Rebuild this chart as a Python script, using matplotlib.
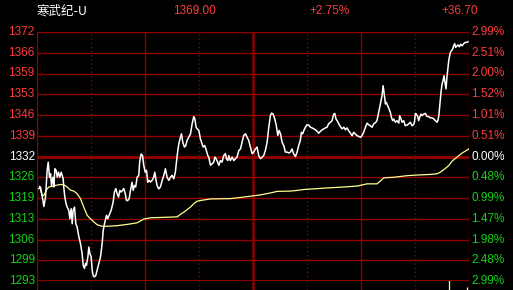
import numpy as np
import matplotlib
matplotlib.use("Agg")
import matplotlib.pyplot as plt

# quote header
stock_name = "寒武纪-U"
last_price = "1369.00"
change_pct = "+2.75%"
change_abs = "+36.70"

prev_close = 1332.3
span = 39.6          # price range either side of prev close

# axis labels, top to bottom
price_labels = ["1372", "1366", "1359", "1353", "1346", "1339", "1332",
                "1326", "1319", "1313", "1306", "1299", "1293"]
pct_labels = ["2.99%", "2.51%", "2.00%", "1.52%", "1.01%", "0.51%", "0.00%",
              "0.48%", "0.99%", "1.47%", "1.98%", "2.48%", "2.99%"]

# intraday price (minutes from open, price)
price_minutes = [
    1.3, 2.2, 3.1, 4.1, 5.0, 5.9, 6.5, 7.2, 7.8, 8.3, 9.1, 9.6, 10.2, 10.9, 11.5,
    12.2, 12.9, 13.7, 14.2, 14.8, 15.1, 15.7, 16.4, 17.0, 17.9, 18.5, 19.2, 19.8,
    20.3, 21.1, 21.8, 22.5, 23.5, 24.4, 25.3, 25.9, 26.6, 27.2, 27.7, 28.5, 29.0,
    29.6, 30.3, 30.9, 31.4, 32.1, 32.9, 33.6, 34.5, 35.5, 36.4, 37.0, 37.7, 38.8,
    39.5, 40.6, 41.4, 42.5, 43.2, 44.0, 44.7, 45.5, 46.2, 46.9, 47.7, 48.4, 49.2,
    49.9, 50.6, 51.4, 52.1, 53.0, 53.6, 54.3, 55.0, 55.8, 56.7, 57.2, 58.0, 58.8,
    59.5, 60.3, 61.0, 61.7, 62.5,
    63.2, 64.1, 65.0, 65.6, 66.3, 66.9, 67.8, 68.7, 69.7, 70.6, 71.5, 72.4, 73.4,
    74.3, 75.2, 76.1, 77.0, 78.0, 78.9, 79.8, 80.4, 81.1, 82.0, 82.8, 83.5, 84.4,
    85.4, 86.3, 87.2, 87.8, 88.5, 89.1, 90.0, 90.9, 91.8, 92.4, 93.3, 94.2, 95.0,
    95.5, 96.5, 97.4, 98.3, 98.9, 99.6, 100.1, 101.1, 102.0, 102.9, 103.8, 104.8,
    105.3, 106.1, 106.6, 107.5, 108.5, 109.4, 110.3, 111.2, 112.2, 113.1, 114.0,
    114.9, 115.9, 116.8, 117.7, 118.6, 119.6, 120.5, 121.4, 122.3, 123.2, 124.2,
    125.1, 126.0, 126.9, 127.9, 128.8, 129.7, 130.3, 131.2, 132.1, 133.0, 133.8,
    134.5, 135.3,
    136.2, 137.1, 138.0, 139.0, 139.9, 140.8, 141.7, 142.6, 143.6, 144.5, 145.4,
    146.3, 146.9, 147.6, 148.2, 149.1, 150.0, 151.0, 151.9, 152.8, 153.7, 154.7,
    155.6, 156.5, 157.4, 158.4, 159.3, 160.2, 161.1, 162.0, 163.0, 163.9, 164.8,
    165.4, 166.1, 166.7, 167.6, 168.5, 169.4, 170.4, 171.3, 172.2, 173.1, 174.1,
    175.0, 175.9, 176.8, 177.8, 178.7, 179.6, 180.5, 181.4, 182.4, 183.3, 184.2,
    185.1, 186.1, 187.0, 187.9, 188.8, 189.8, 190.7, 191.6, 192.2, 192.7, 193.5,
    194.0, 194.7, 195.5, 196.2, 196.8, 197.5, 198.1, 199.0, 199.9, 200.9,
    201.4, 202.1, 202.7, 203.6, 204.5, 205.5, 206.4, 207.3, 208.2, 209.2, 209.7,
    210.1, 210.6, 211.4, 211.9, 212.5, 213.2, 213.8, 214.7, 215.6, 216.6, 217.5,
    218.4, 219.3, 220.2, 221.2, 222.1, 222.7, 223.2, 223.8, 224.3, 224.9, 225.4,
    226.0, 226.5, 227.1, 227.6, 228.2, 228.6, 228.9, 229.5, 230.0, 230.8, 231.3,
    231.9, 232.4, 233.2, 233.7, 234.5, 235.2, 236.0, 236.9, 237.8, 238.7, 239.3,
]
price_values = [
    1322.1, 1322.6, 1319.9, 1316.4, 1319.4, 1327.9, 1330.5, 1325.7, 1326.8, 1323.1,
    1325.7, 1322.6, 1328.4, 1327.9, 1325.7, 1327.3, 1325.7, 1327.3, 1326.3, 1325.2,
    1322.6, 1319.4, 1317.3, 1316.2, 1315.2, 1312.5, 1315.7, 1310.9, 1315.2, 1316.2,
    1310.9, 1309.9, 1306.7, 1304.6, 1301.4, 1297.7, 1296.7, 1298.3, 1297.7, 1300.4,
    1303.5, 1301.4, 1300.4, 1296.1, 1294.5, 1294.0, 1294.5, 1296.1, 1298.3, 1300.4,
    1304.6, 1308.8, 1310.9, 1313.6, 1312.5, 1314.1, 1315.2, 1317.8, 1321.0, 1322.1,
    1320.5, 1319.4, 1321.5, 1321.0, 1321.5, 1322.1, 1320.5, 1318.3, 1318.3, 1318.9,
    1321.5, 1324.1, 1321.5, 1323.1, 1322.6, 1325.7, 1326.3, 1330.5, 1333.1, 1332.6,
    1329.4, 1327.3, 1327.9, 1324.1, 1324.7,
    1324.2, 1324.7, 1325.7, 1327.3, 1324.7, 1323.0, 1322.0, 1322.6, 1324.7, 1326.3,
    1328.4, 1325.7, 1324.7, 1325.7, 1326.3, 1325.2, 1327.3, 1332.6, 1336.3, 1338.4,
    1339.5, 1336.9, 1335.3, 1335.8, 1337.4, 1338.4, 1339.5, 1342.7, 1345.0, 1344.3,
    1341.6, 1341.1, 1340.6, 1337.9, 1336.3, 1335.3, 1335.8, 1334.2, 1332.6, 1332.1,
    1329.5, 1330.0, 1330.5, 1332.1, 1331.6, 1331.0, 1329.5, 1331.0, 1330.5, 1332.6,
    1333.2, 1331.6, 1331.0, 1332.6, 1331.0, 1332.1, 1331.0, 1331.6, 1332.1, 1334.2,
    1334.7, 1336.9, 1339.0, 1339.5, 1338.4, 1337.4, 1335.3, 1333.2, 1333.7, 1334.7,
    1335.3, 1332.6, 1331.6, 1332.1, 1332.6, 1334.2, 1336.9, 1341.6, 1345.3, 1346.1,
    1345.8, 1344.3, 1342.1, 1339.0, 1340.6, 1339.5,
    1336.8, 1335.8, 1333.7, 1333.7, 1333.4, 1333.7, 1334.7, 1333.1, 1332.3, 1333.7,
    1335.8, 1337.4, 1340.0, 1339.5, 1340.5, 1341.6, 1342.4, 1342.3, 1341.6, 1341.4,
    1341.1, 1340.8, 1340.3, 1339.7, 1340.3, 1340.8, 1341.1, 1341.4, 1341.6, 1342.7,
    1343.2, 1343.7, 1345.8, 1346.0, 1344.2, 1343.7, 1342.7, 1341.8, 1341.1, 1341.6,
    1340.8, 1341.4, 1340.5, 1339.7, 1338.9, 1340.0, 1339.5, 1338.9, 1338.7, 1338.4,
    1338.9, 1340.0, 1341.6, 1342.9, 1342.4, 1342.1, 1341.6, 1342.7, 1343.0, 1343.7,
    1346.4, 1349.0, 1351.6, 1354.8, 1352.7, 1349.0, 1349.5, 1348.5, 1347.4, 1346.4,
    1344.8, 1343.7, 1344.2, 1343.2, 1343.7, 1342.9,
    1345.3, 1344.3, 1343.2, 1343.7, 1342.1, 1342.3, 1342.7, 1343.2, 1342.1, 1342.5,
    1343.7, 1346.0, 1345.8, 1345.0, 1343.7, 1344.8, 1345.8, 1345.3, 1345.8, 1346.0,
    1345.0, 1345.0, 1344.6, 1344.6, 1344.3, 1343.7, 1343.2, 1343.9, 1345.8, 1349.5,
    1352.7, 1355.4, 1356.4, 1358.0, 1355.9, 1353.8, 1357.5, 1360.6, 1362.8, 1363.8,
    1365.4, 1365.9, 1366.5, 1367.5, 1368.2, 1367.0, 1367.5, 1367.8, 1367.2, 1368.0,
    1367.5, 1368.2, 1368.6, 1368.6, 1368.8,
]

# average price line
avg_minutes = [
    1.7, 3.1, 4.1, 5.0, 5.9, 6.8, 8.7, 10.5, 13.3, 15.1, 17.0, 18.8, 20.7, 22.5,
    24.4, 26.2, 28.1, 29.9, 31.8, 33.6, 36.4, 39.2, 44.7, 50.3, 55.8, 59.5, 63.2,
    78.0, 79.8, 81.7, 83.5, 85.4, 87.2, 89.1, 90.9, 96.5, 107.5, 114.9, 120.5,
    124.2, 129.7, 133.4, 140.8, 144.5, 148.2, 153.7, 161.1, 170.4, 177.8, 183.3,
    188.8, 190.7, 192.5, 198.1, 205.5, 211.0, 218.4, 222.1, 223.9, 225.8, 228.6,
    230.4, 233.2, 236.0, 237.8, 239.7,
]
avg_values = [
    1322.8, 1319.9, 1319.9, 1321.0, 1322.0, 1322.6, 1322.8, 1323.1, 1323.4, 1323.3,
    1322.6, 1321.6, 1321.3, 1320.5, 1318.9, 1316.2, 1313.6, 1312.5, 1311.5, 1310.6,
    1310.1, 1310.1, 1310.3, 1310.7, 1311.2, 1312.4, 1312.8, 1313.1, 1313.9, 1314.6,
    1315.4, 1316.2, 1317.3, 1318.1, 1318.3, 1318.8, 1318.9, 1319.4, 1319.8, 1320.1,
    1320.7, 1321.2, 1321.3, 1321.5, 1321.8, 1322.0, 1322.3, 1322.6, 1322.9, 1323.6,
    1323.6, 1324.5, 1325.5, 1325.7, 1326.2, 1326.4, 1326.6, 1326.8, 1327.3, 1328.1,
    1329.4, 1330.8, 1332.1, 1333.4, 1334.0, 1334.7,
]

# top of the volume panel peeking in below
vol_minutes = [229, 239]
vol_values = [130, 35]

bg = "black"
grid_c = "#8E0000"
red = "#FF3C3C"
green = "#14D214"
white = "#FFFFFF"
yellow = "#FFFF90"

W, H = 513, 290
fig = plt.figure(figsize=(W / 100, H / 100), dpi=100, facecolor=bg)
x0, x1 = 36.5, 469.3
y_top, y_bot = 32, 281
ax = fig.add_axes([x0 / W, 1 - y_bot / H, (x1 - x0) / W, (y_bot - y_top) / H])
ax.set_facecolor(bg)
ax.set_xlim(0, 240)
ax.set_ylim(prev_close - span, prev_close + span)
for s in ax.spines.values():
    s.set_visible(False)
ax.set_xticks([])
ax.set_yticks([])

levels = prev_close + span * np.linspace(1, -1, 13)
for i, lv in enumerate(levels):
    thick = i in (6, 12)
    ax.axhline(lv, color=grid_c, lw=2.2 if thick else 1.0, zorder=1)

ax_vol = fig.add_axes([x0 / W, 0, (x1 - x0) / W, (H - y_bot) / H])
ax_vol.set_facecolor(bg)
ax_vol.set_xlim(0, 240)
ax_vol.set_ylim(0, 100)
ax_vol.axis("off")

for a in (ax, ax_vol):
    for m in [0, 60, 180, 240]:
        a.axvline(m, color=grid_c, lw=1.0, zorder=1)
    a.axvline(120, color=grid_c, lw=1.8, zorder=1)
    for m in [30, 90, 150, 210]:
        a.axvline(m, color=grid_c, lw=1.0, ls=(0, (1, 2)), zorder=1)

ax_vol.vlines(vol_minutes, 0, vol_values, color=yellow, lw=0.9, zorder=3)

ax.plot(avg_minutes, avg_values, color=yellow, lw=0.9, zorder=3)
ax.plot(price_minutes, price_values, color=white, lw=1.1, zorder=4)

lbl_font = dict(family="Liberation Sans", fontsize=8.5)
for i, lv in enumerate(levels):
    c = red if i < 6 else (white if i == 6 else green)
    ax.text(-0.004, lv, price_labels[i], color=c, ha="right", va="center",
            transform=ax.get_yaxis_transform(), clip_on=False, **lbl_font)
    ax.text(1.004, lv, pct_labels[i], color=c, ha="left", va="center",
            transform=ax.get_yaxis_transform(), clip_on=False, **lbl_font)

ty = 1 - 11 / H
fig.text(37 / W, ty, stock_name, color=white, ha="left", va="center",
         family=["Noto Sans CJK SC", "DejaVu Sans"], fontsize=9)
fig.text(173 / W, ty, last_price, color=red, ha="left", va="center", **lbl_font)
fig.text(309 / W, ty, change_pct, color=red, ha="left", va="center", **lbl_font)
fig.text(441 / W, ty, change_abs, color=red, ha="left", va="center", **lbl_font)

fig.savefig("out.png", dpi=100, facecolor=bg)
